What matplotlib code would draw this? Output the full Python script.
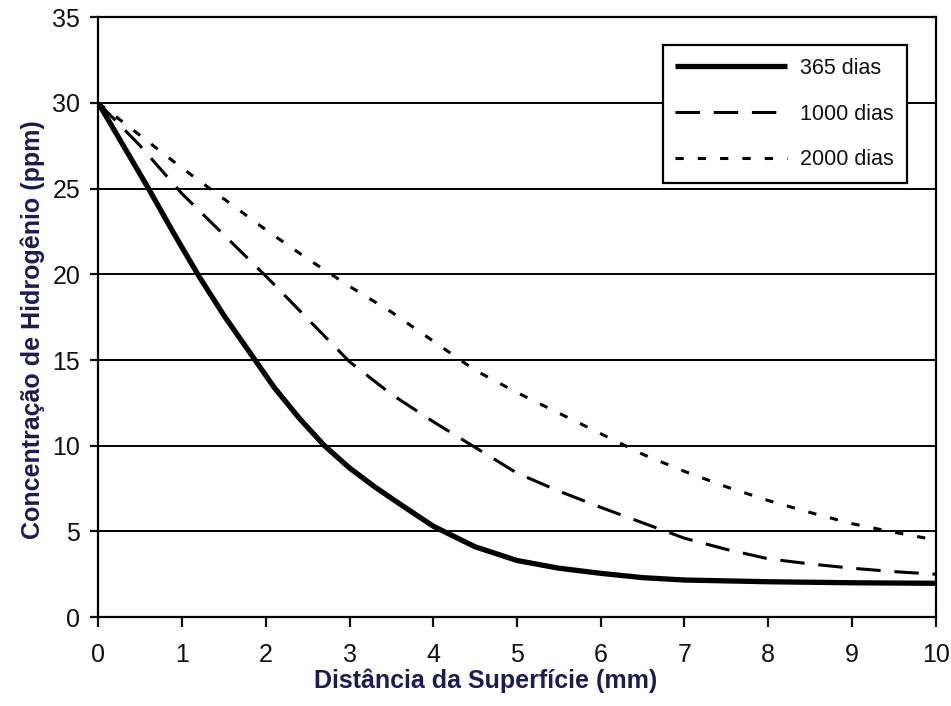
import numpy as np
import matplotlib
matplotlib.use("Agg")
import matplotlib.pyplot as plt

plt.rcParams["font.family"] = ["Liberation Sans", "DejaVu Sans"]

# hydrogen concentration profiles (ppm) vs depth below the surface (mm)
x_365 = [0, 0.3, 0.6, 0.9, 1.2, 1.5, 1.8, 2.1, 2.4, 2.7, 3.0, 3.3, 3.6, 4.0,
         4.5, 5.0, 5.5, 6.0, 6.5, 7.0, 8.0, 9.0, 10.0]
c_365 = [30, 27.5, 25.0, 22.4, 19.9, 17.6, 15.5, 13.4, 11.6, 10.0, 8.7, 7.6, 6.6, 5.3,
         4.1, 3.3, 2.85, 2.55, 2.3, 2.16, 2.06, 2.0, 1.97]

x_1000 = [0, 0.5, 1, 1.5, 2, 2.5, 3, 3.5, 4, 4.5, 5, 5.5, 6, 6.5, 7, 7.5, 8, 8.5, 9, 9.5, 10]
c_1000 = [30, 27.5, 24.7, 22.3, 19.9, 17.4, 14.9, 13.0, 11.4, 9.9, 8.4, 7.35, 6.4, 5.5,
          4.6, 3.95, 3.4, 3.1, 2.85, 2.65, 2.5]

x_2000 = [0, 0.5, 1, 1.5, 2, 2.5, 3, 3.5, 4, 4.5, 5, 5.5, 6, 6.5, 7, 7.5, 8, 8.5, 9, 9.5, 10]
c_2000 = [30, 28.1, 26.2, 24.4, 22.6, 20.9, 19.3, 17.8, 16.1, 14.4, 13.1, 11.9, 10.7, 9.5,
          8.5, 7.6, 6.8, 6.1, 5.45, 4.95, 4.5]

labels = ["365 dias", "1000 dias", "2000 dias"]
xticks = np.arange(0, 11, 1)
yticks = np.arange(0, 36, 5)

navy = "#1c1c4e"

fig = plt.figure(figsize=(9.51, 7.06), dpi=100)
ax = fig.add_axes([0.1034, 0.126, 0.8805, 0.8495])

ax.plot(x_365, c_365, color="black", lw=3.8, solid_capstyle="butt",
        solid_joinstyle="round", label=labels[0])
ax.plot(x_1000, c_1000, color="black", lw=2.2, linestyle=(0, (8, 4.5)), label=labels[1])
ax.plot(x_2000, c_2000, color="black", lw=2.2, linestyle=(0, (2.7, 4.6)), label=labels[2])

ax.set_xlim(0, 10)
ax.set_ylim(0, 35)
ax.set_xticks(xticks)
ax.set_yticks(yticks)
ax.yaxis.grid(True, color="black", lw=1.4)
ax.set_axisbelow(True)
for sp in ax.spines.values():
    sp.set_linewidth(1.6)
    sp.set_color("black")

ax.tick_params(axis="x", direction="out", length=7, width=1.6, pad=12, labelsize=18, colors="#111")
ax.tick_params(axis="y", direction="out", length=6, width=1.6, pad=7, labelsize=18, colors="#111")

ax.set_xlabel("Distância da Superfície (mm)", fontsize=18, fontweight="bold",
              color=navy, x=0.463, labelpad=1)
ax.set_ylabel("Concentração de Hidrogênio (ppm)", fontsize=18, fontweight="bold",
              color=navy, y=0.479, labelpad=5)

leg = ax.legend(loc="upper right", bbox_to_anchor=(0.9657, 0.9538), fontsize=15.5,
                frameon=True, fancybox=False, handlelength=5.2, handletextpad=0.6,
                labelspacing=1.15, borderpad=0.6, borderaxespad=0)
leg.get_frame().set_edgecolor("black")
leg.get_frame().set_linewidth(1.6)
leg.get_frame().set_alpha(1)
for t in leg.get_texts():
    t.set_color("#111")

fig.savefig("out.png", dpi=100)
